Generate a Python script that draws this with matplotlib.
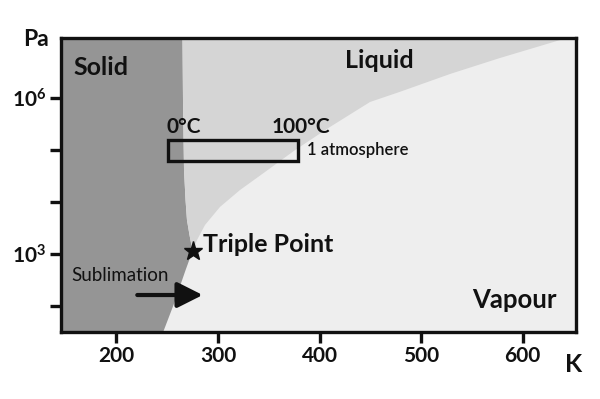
import matplotlib
matplotlib.use('Agg')
import matplotlib.pyplot as plt
from matplotlib.ticker import FixedLocator, FixedFormatter, NullLocator

plt.rcParams['font.family'] = ['Lato', 'DejaVu Sans']
plt.rcParams['mathtext.fontset'] = 'custom'
plt.rcParams['mathtext.rm'] = 'Lato'
plt.rcParams['mathtext.bf'] = 'Lato:bold'
plt.rcParams['mathtext.it'] = 'Lato:italic'

# ---- data (temperature K, pressure Pa) ----
triple_T = 275.0
triple_P = 1140.0

melt_T = [275.0, 272.0, 269.5, 268.1, 266.6, 265.6, 265.1, 265.0]
melt_P = [1140, 2310, 4500, 1.09e4, 4.14e4, 9.2e5, 1.45e7, 2.0e7]

subl_T = [275.0, 268.2, 256.3, 246.2, 242.3]
subl_P = [1140, 490, 104, 31.6, 20]

vap_T = [275.0, 279.4, 287.3, 302.0, 321.7, 346.3, 375.9, 410.3, 449.7,
         479.3, 528.5, 577.7, 643.7]
vap_P = [1140, 1850, 3610, 8020, 1.70e4, 3.78e4, 1.00e5, 2.79e5, 8.45e5,
         1.33e6, 2.93e6, 5.96e6, 1.45e7]

atm_T = [251.1, 379.1]        # box extent (0 C .. 100 C labels)
atm_P = [6.2e4, 1.57e5]

x_ticks = [200, 300, 400, 500, 600]
x_labels = ['200', '300', '400', '500', '600']
y_ticks = [1e2, 1e3, 1e4, 1e5, 1e6]
y_labels = ['', r'$\mathbf{10^{3}}$', '', '', r'$\mathbf{10^{6}}$']

x_lim = (145.5, 652.2)
y_lim = (10 ** 1.50, 10 ** 7.17)

c_solid = '#959595'
c_liquid = '#d5d5d5'
c_vapour = '#eeeeee'
ink = '#111111'

fig = plt.figure(figsize=(6.0, 3.99), dpi=100)
ax = fig.add_axes([61 / 600, 1 - 331.7 / 399, 514.7 / 600, 294.2 / 399])
ax.set_yscale('log')
ax.set_facecolor(c_vapour)

# solid region
sx = [100] + subl_T[::-1] + melt_T[1:] + [100]
sy = [1] + subl_P[::-1] + melt_P[1:] + [melt_P[-1]]
ax.fill(sx, sy, color=c_solid, lw=0, zorder=1)

# liquid region
lx = melt_T + [vap_T[-1]] + vap_T[::-1]
ly = melt_P + [melt_P[-1]] + vap_P[::-1]
ax.fill(lx, ly, color=c_liquid, lw=0, zorder=1)

ax.set_xlim(*x_lim)
ax.set_ylim(*y_lim)

# 1 atmosphere box
ax.fill([atm_T[0], atm_T[1], atm_T[1], atm_T[0]],
        [atm_P[0], atm_P[0], atm_P[1], atm_P[1]],
        facecolor='none', edgecolor=ink, lw=2.4, zorder=3)

# triple point
ax.plot([triple_T], [triple_P], marker='*', ms=14, color=ink, zorder=4,
        linestyle='none')

# ticks
ax.xaxis.set_major_locator(FixedLocator(x_ticks))
ax.xaxis.set_major_formatter(FixedFormatter(x_labels))
ax.yaxis.set_major_locator(FixedLocator(y_ticks))
ax.yaxis.set_major_formatter(FixedFormatter(y_labels))
ax.xaxis.set_minor_locator(NullLocator())
ax.yaxis.set_minor_locator(NullLocator())
ax.tick_params(axis='x', length=8, width=2.4, pad=2.5, labelsize=15,
               color=ink, labelcolor=ink)
ax.tick_params(axis='y', length=8, width=2.4, pad=2.4, labelsize=15,
               color=ink, labelcolor=ink)
for lab in ax.get_xticklabels():
    lab.set_fontweight('bold')
for sp in ax.spines.values():
    sp.set_linewidth(2.4)
    sp.set_color(ink)
    sp.set_zorder(5)

# region labels
kw = dict(transform=ax.transAxes, color=ink, fontweight='bold', va='baseline')
ax.text(0.0775, 0.873, 'Solid', ha='center', fontsize=18, **kw)
ax.text(0.6182, 0.895, 'Liquid', ha='center', fontsize=18, **kw)
ax.text(0.8805, 0.0795, 'Vapour', ha='center', fontsize=18.5, **kw)
ax.text(0.2765, 0.272, 'Triple Point', ha='left', fontsize=18, **kw)
ax.text(0.2054, 0.6744, '0°C', ha='left', fontsize=15, **kw)
ax.text(0.4094, 0.6744, '100°C', ha='left', fontsize=15, **kw)
ax.text(0.4774, 0.6006, '1 atmosphere', ha='left', fontsize=12,
        transform=ax.transAxes, color=ink, va='baseline', fontweight='semibold')
ax.text(0.1156, 0.174, 'Sublimation', ha='center', fontsize=13.5,
        transform=ax.transAxes, color=ink, va='baseline')

# sublimation arrow
ax.annotate('', xy=(0.2753, 0.1247), xytext=(0.1482, 0.1247),
            xycoords='axes fraction', textcoords='axes fraction',
            arrowprops=dict(arrowstyle='-|>,head_length=1.55,head_width=0.78',
                            mutation_scale=10, lw=3, color=ink,
                            shrinkA=0, shrinkB=0), zorder=4)

# axis unit labels
fig.text(0.0378, 1 - 46 / 399, 'Pa', fontsize=16.5, fontweight='bold',
         color=ink, ha='left', va='baseline')
fig.text(0.9417, 1 - 372 / 399, 'K', fontsize=18, fontweight='bold',
         color=ink, ha='left', va='baseline')

fig.savefig('out.png', dpi=100)
